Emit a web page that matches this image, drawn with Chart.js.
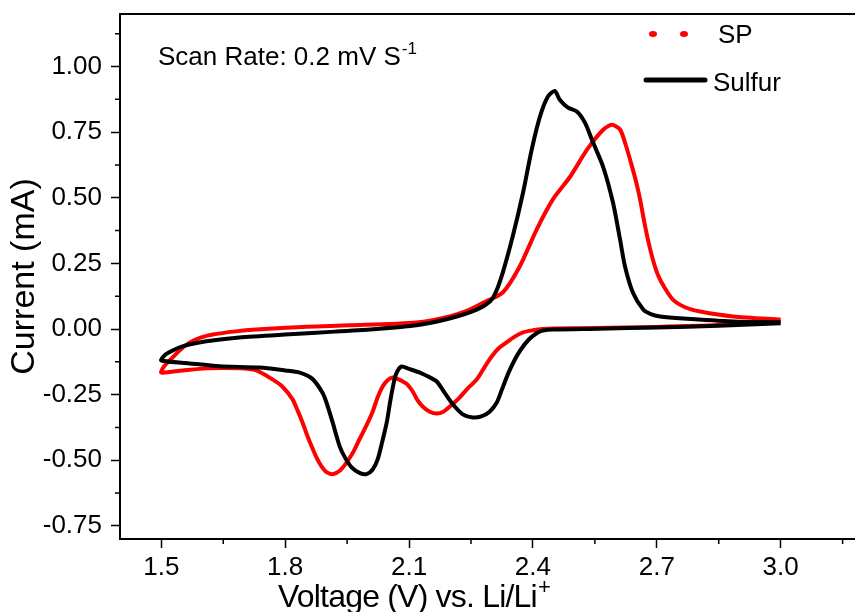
<!DOCTYPE html>
<html>
<head>
<meta charset="utf-8">
<script src="https://cdn.jsdelivr.net/npm/chart.js@4"></script>
<style>
  body { margin: 0; background: #fff; }
  #wrap { width: 855px; height: 612px; }
</style>
</head>
<body>
<div id="wrap"><canvas id="cv" width="855" height="612"></canvas></div>
<script>
// CV loops: cathodic sweep 3.0 -> 1.5 V, then anodic back to 3.0 V
const sulfurV = [3.00, 2.85, 2.70, 2.56, 2.45, 2.424, 2.41, 2.39, 2.37, 2.355, 2.34, 2.325, 2.3125, 2.295, 2.275, 2.254, 2.23, 2.206, 2.185, 2.167, 2.145, 2.126, 2.10, 2.082, 2.072, 2.065, 2.055, 2.046, 2.035, 2.024, 2.012, 1.997, 1.980, 1.961, 1.945, 1.932, 1.915, 1.900, 1.890, 1.866, 1.835, 1.80, 1.738, 1.641, 1.568, 1.50,
  1.505, 1.519, 1.551, 1.609, 1.689, 1.810, 1.920, 2.020, 2.118, 2.198, 2.264, 2.296, 2.310, 2.327, 2.351, 2.376, 2.397, 2.417, 2.436, 2.453, 2.465, 2.485, 2.507, 2.526, 2.545, 2.570, 2.594, 2.611, 2.623, 2.642, 2.667, 2.684, 2.708, 2.764, 2.885, 3.00];
const sulfurI = [0.022, 0.012, 0.006, 0.001, -0.002, -0.006, -0.015, -0.04, -0.08, -0.12, -0.17, -0.23, -0.28, -0.315, -0.333, -0.337, -0.325, -0.287, -0.24, -0.20, -0.18, -0.166, -0.152, -0.143, -0.16, -0.19, -0.27, -0.356, -0.43, -0.497, -0.535, -0.553, -0.548, -0.527, -0.49, -0.447, -0.356, -0.28, -0.242, -0.19, -0.166, -0.158, -0.147, -0.142, -0.131, -0.12,
  -0.105, -0.089, -0.066, -0.047, -0.032, -0.020, -0.010, 0.000, 0.014, 0.040, 0.074, 0.105, 0.14, 0.215, 0.352, 0.519, 0.683, 0.809, 0.885, 0.907, 0.873, 0.843, 0.828, 0.786, 0.713, 0.618, 0.481, 0.341, 0.238, 0.139, 0.074, 0.058, 0.048, 0.04, 0.029, 0.026];

const spV = [3.00, 2.85, 2.70, 2.55, 2.45, 2.424, 2.40, 2.376, 2.355, 2.337, 2.316, 2.300, 2.283, 2.265, 2.240, 2.220, 2.199, 2.183, 2.167, 2.150, 2.133, 2.120, 2.109, 2.095, 2.085, 2.072, 2.060, 2.048, 2.036, 2.024, 2.012, 1.996, 1.980, 1.965, 1.949, 1.932, 1.915, 1.900, 1.888, 1.876, 1.864, 1.852, 1.842, 1.830, 1.818, 1.793, 1.769, 1.730, 1.689, 1.609, 1.551, 1.50,
  1.507, 1.527, 1.547, 1.568, 1.595, 1.624, 1.680, 1.730, 1.852, 1.956, 2.118, 2.198, 2.247, 2.279, 2.327, 2.368, 2.409, 2.448, 2.490, 2.531, 2.570, 2.591, 2.611, 2.625, 2.638, 2.650, 2.660, 2.670, 2.680, 2.691, 2.703, 2.718, 2.739, 2.770, 2.805, 2.885, 3.00];
const spI = [0.03, 0.015, 0.008, 0.004, 0.002, 0.0, -0.005, -0.013, -0.03, -0.05, -0.075, -0.105, -0.145, -0.19, -0.23, -0.265, -0.295, -0.315, -0.322, -0.315, -0.295, -0.27, -0.238, -0.21, -0.2, -0.19, -0.185, -0.195, -0.219, -0.26, -0.314, -0.37, -0.42, -0.468, -0.508, -0.54, -0.553, -0.545, -0.523, -0.49, -0.447, -0.40, -0.356, -0.31, -0.268, -0.219, -0.192, -0.158, -0.15, -0.15, -0.158, -0.166,
  -0.142, -0.109, -0.078, -0.052, -0.033, -0.021, -0.009, -0.002, 0.009, 0.014, 0.025, 0.048, 0.074, 0.10, 0.139, 0.238, 0.379, 0.493, 0.580, 0.683, 0.759, 0.778, 0.760, 0.700, 0.630, 0.560, 0.490, 0.405, 0.330, 0.262, 0.205, 0.160, 0.112, 0.082, 0.067, 0.048, 0.036];

const xTicks = [1.5, 1.8, 2.1, 2.4, 2.7, 3.0];
const xMinor = [1.65, 1.95, 2.25, 2.55, 2.85, 3.15];
const yTicks = [-0.75, -0.50, -0.25, 0.00, 0.25, 0.50, 0.75, 1.00];
const yMinor = [-0.625, -0.375, -0.125, 0.125, 0.375, 0.625, 0.875, 1.125];

const FONT = "'Liberation Sans', Arial, sans-serif";

function pts(xs, ys) {
  return xs.map((v, i) => ({ x: v, y: ys[i] }));
}

// text with a raised small suffix, returns end x
function supText(ctx, main, sup, x, y, size, supSize, rise) {
  ctx.font = size + 'px ' + FONT;
  ctx.fillText(main, x, y);
  const w = ctx.measureText(main).width;
  ctx.font = supSize + 'px ' + FONT;
  ctx.fillText(sup, x + w + 1, y - rise);
}

const extras = {
  id: 'extras',
  afterDraw(chart) {
    const { ctx, chartArea: a, scales: { x, y } } = chart;
    ctx.save();
    ctx.strokeStyle = '#000';
    ctx.lineWidth = 1.5;
    ctx.beginPath();
    xMinor.forEach(v => {
      const px = x.getPixelForValue(v);
      ctx.moveTo(px, a.bottom);
      ctx.lineTo(px, a.bottom + 5);
    });
    yMinor.forEach(v => {
      const py = y.getPixelForValue(v);
      ctx.moveTo(a.left, py);
      ctx.lineTo(a.left - 5, py);
    });
    ctx.stroke();

    // top frame line
    ctx.lineWidth = 2;
    ctx.beginPath();
    ctx.moveTo(a.left, a.top);
    ctx.lineTo(a.right, a.top);
    ctx.stroke();

    ctx.fillStyle = '#000';
    ctx.textBaseline = 'alphabetic';
    ctx.textAlign = 'left';

    // scan rate note
    supText(ctx, 'Scan Rate: 0.2 mV S', '-1', 158, 65, 26, 17, 11);

    // x axis title
    ctx.letterSpacing = '-0.8px';
    supText(ctx, 'Voltage (V) vs. Li/Li', '+', 278, 607, 32, 22, 13);
    ctx.letterSpacing = '0px';

    // legend
    ctx.fillStyle = '#ff0000';
    [653, 684].forEach(cx => {
      ctx.beginPath();
      ctx.ellipse(cx, 34, 4, 3, 0, 0, Math.PI * 2);
      ctx.fill();
    });
    ctx.strokeStyle = '#000';
    ctx.lineWidth = 5;
    ctx.lineCap = 'round';
    ctx.beginPath();
    ctx.moveTo(646, 80);
    ctx.lineTo(705, 80);
    ctx.stroke();
    ctx.fillStyle = '#000';
    ctx.font = '26px ' + FONT;
    ctx.fillText('SP', 718, 43);
    ctx.fillText('Sulfur', 713, 91);
    ctx.restore();
  }
};

const config = {
  type: 'scatter',
  data: {
    datasets: [
      {
        label: 'Sulfur',
        data: pts(sulfurV, sulfurI),
        showLine: true,
        borderColor: '#000000',
        borderWidth: 4,
        tension: 0.25,
        pointRadius: 0
      },
      {
        label: 'SP',
        data: pts(spV, spI),
        showLine: true,
        borderColor: '#ff0000',
        borderWidth: 4,
        tension: 0.25,
        pointRadius: 0
      }
    ]
  },
  options: {
    responsive: false,
    animation: false,
    devicePixelRatio: 1,
    layout: { padding: { top: 14, right: 0, left: 0, bottom: 0 } },
    plugins: { legend: { display: false }, tooltip: { enabled: false } },
    scales: {
      x: {
        type: 'linear',
        min: 1.4,
        max: 3.18,
        afterFit(s) { s.height = 73; s.paddingLeft = 0; s.paddingRight = 0; },
        afterBuildTicks(s) { s.ticks = xTicks.map(v => ({ value: v })); },
        ticks: {
          callback: v => Number(v).toFixed(1),
          font: { family: FONT, size: 26 },
          color: '#000',
          padding: 4,
          maxRotation: 0,
          autoSkip: false
        },
        grid: { drawOnChartArea: false, tickLength: 9, tickColor: '#000', tickWidth: 1.5 },
        border: { color: '#000', width: 2 },
        title: { display: false }
      },
      y: {
        type: 'linear',
        min: -0.8,
        max: 1.2,
        afterFit(s) { s.width = 120; s.paddingTop = 0; s.paddingBottom = 0; },
        afterBuildTicks(s) { s.ticks = yTicks.map(v => ({ value: v })); },
        ticks: {
          callback: v => Number(v).toFixed(2),
          font: { family: FONT, size: 26 },
          color: '#000',
          padding: 9,
          autoSkip: false
        },
        grid: { drawOnChartArea: false, tickLength: 9, tickColor: '#000', tickWidth: 1.5 },
        border: { color: '#000', width: 2 },
        title: {
          display: true,
          text: 'Current (mA)',
          font: { family: FONT, size: 34, lineHeight: 1 },
          color: '#000',
          padding: { top: 8, bottom: 0 }
        }
      }
    }
  },
  plugins: [extras]
};

const myChart = new Chart(document.getElementById('cv'), config);
</script>
</body>
</html>
